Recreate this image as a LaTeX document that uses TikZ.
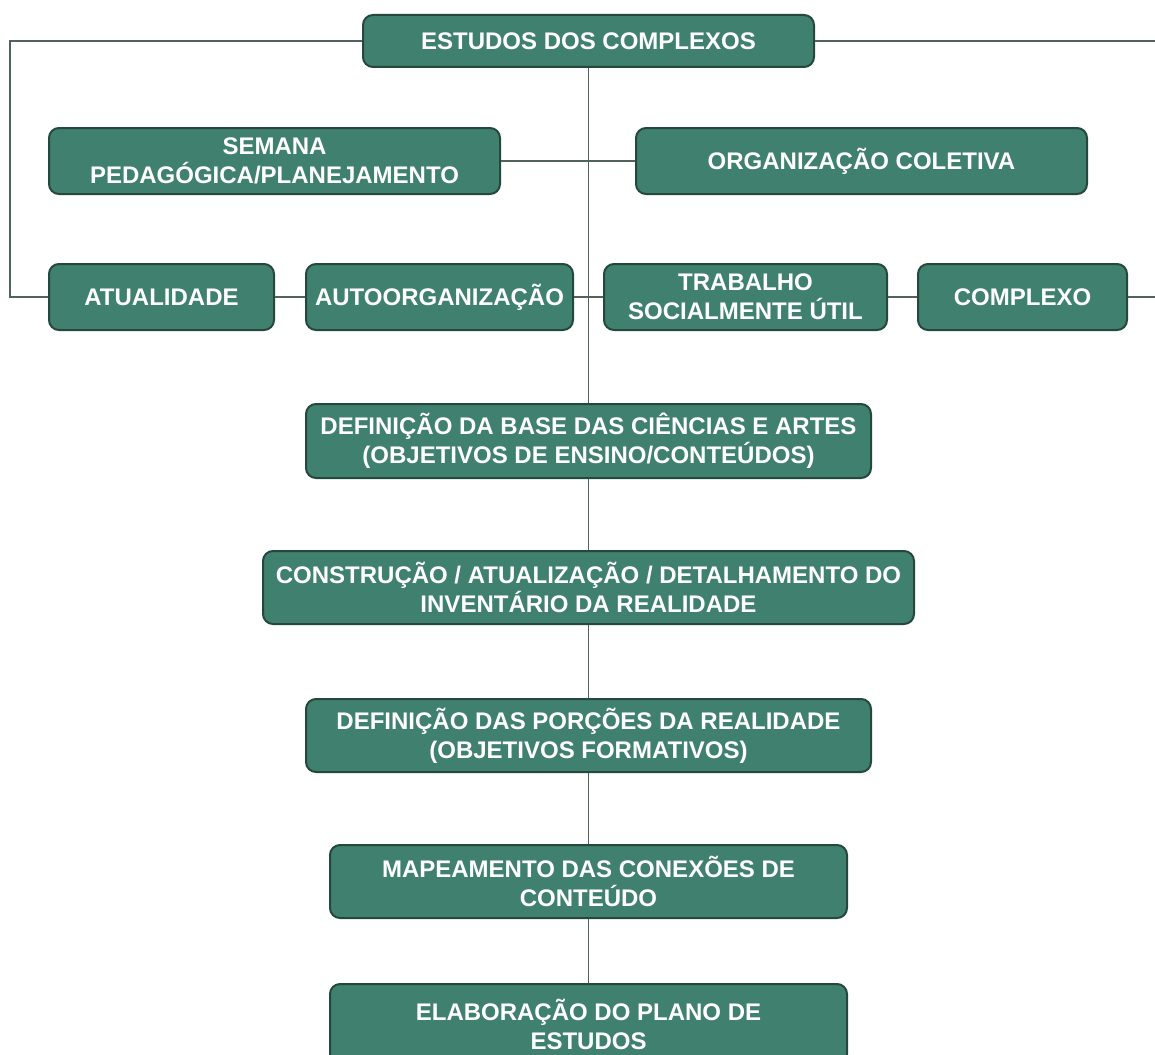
\documentclass[tikz,border=0pt]{standalone}
\usepackage{fontspec}
\setmainfont{Liberation Sans}
\usetikzlibrary{positioning}
\definecolor{boxfill}{RGB}{64,128,111}
\definecolor{boxline}{RGB}{36,72,60}
\definecolor{linkgray}{RGB}{80,100,92}
\begin{document}
\begin{tikzpicture}
            [x=0.5pt,y=-0.5pt,
                box/.style={draw=boxline,line width=1pt,fill=boxfill,rounded corners=5pt,
                    text=white,font=\fontsize{12}{14.5}\selectfont\bfseries,align=center,
                    inner sep=0pt,minimum height=33pt},
                link/.style={draw=linkgray,line width=0.9pt}]
            %picture frame, the bottom box runs out of it
            \path[use as bounding box,clip] (0,0) rectangle (1155,1054);
            \fill[white] (0,0) rectangle (1155,1054);

            %top box and the two rows below it
            \node[box,minimum width=225.5pt,minimum height=26pt] (estudos) at (588.5,41) {ESTUDOS DOS COMPLEXOS};
            \node[box,minimum width=225.5pt] (semana) at (274.5,161) {SEMANA\\PEDAGÓGICA/PLANEJAMENTO};
            \node[box,minimum width=225.5pt] (organizacao) at (861.5,161) {ORGANIZAÇÃO COLETIVA};
            \node[box,minimum width=112.5pt] (atualidade) at (161.5,297) {ATUALIDADE};
            \node[box,minimum width=133.5pt] (autoorg) at (439.5,297) {AUTOORGANIZAÇÃO};
            \node[box,minimum width=141.5pt] (trabalho) at (745.5,297) {TRABALHO\\SOCIALMENTE ÚTIL};
            \node[box,minimum width=104.5pt] (complexo) at (1022.5,297) {COMPLEXO};

            %the steps down the middle
            \node[box,minimum width=282.5pt,minimum height=37pt] (base) at (588.5,441) {DEFINIÇÃO DA BASE DAS CIÊNCIAS E ARTES\\(OBJETIVOS DE ENSINO/CONTEÚDOS)};
            \node[box,minimum width=325.5pt,minimum height=36.5pt] (construcao) at (588.5,587.5) {CONSTRUÇÃO / ATUALIZAÇÃO / DETALHAMENTO DO\\INVENTÁRIO DA REALIDADE};
            \node[box,minimum width=282.5pt,minimum height=36.5pt] (porcoes) at (588.5,735.5) {DEFINIÇÃO DAS PORÇÕES DA REALIDADE\\(OBJETIVOS FORMATIVOS)};
            \node[box,minimum width=258.5pt,minimum height=36.5pt] (mapeamento) at (588.5,881.5) {MAPEAMENTO DAS CONEXÕES DE\\CONTEÚDO};
            \node[box,minimum width=258.5pt,minimum height=40pt,yshift=1pt] (elaboracao) at (588.5,1026) {ELABORAÇÃO DO PLANO DE\\ESTUDOS};

            %ends of the outer lines
            \coordinate (loopL) at (10,41);
            \coordinate (loopR) at (1170,41);
            \coordinate (outR) at (1170,297);

            %connectors
            \draw[link] (estudos.south) -- (base.north);
            \draw[link] (semana.east) -- (organizacao.west);
            \draw[link] (atualidade) -- (autoorg);
            \draw[link] (autoorg) -- (trabalho);
            \draw[link] (trabalho) -- (complexo);
            \draw[link] (complexo.east) -- (outR);
            \draw[link] (estudos.west) -- (loopL) |- (atualidade.west);
            \draw[link] (estudos.east) -- (loopR);
            \foreach \a/\b in {base/construcao,construcao/porcoes,porcoes/mapeamento,mapeamento/elaboracao}
                \draw[link] (\a.south) -- (\b.north);
        \end{tikzpicture}
\end{document}
